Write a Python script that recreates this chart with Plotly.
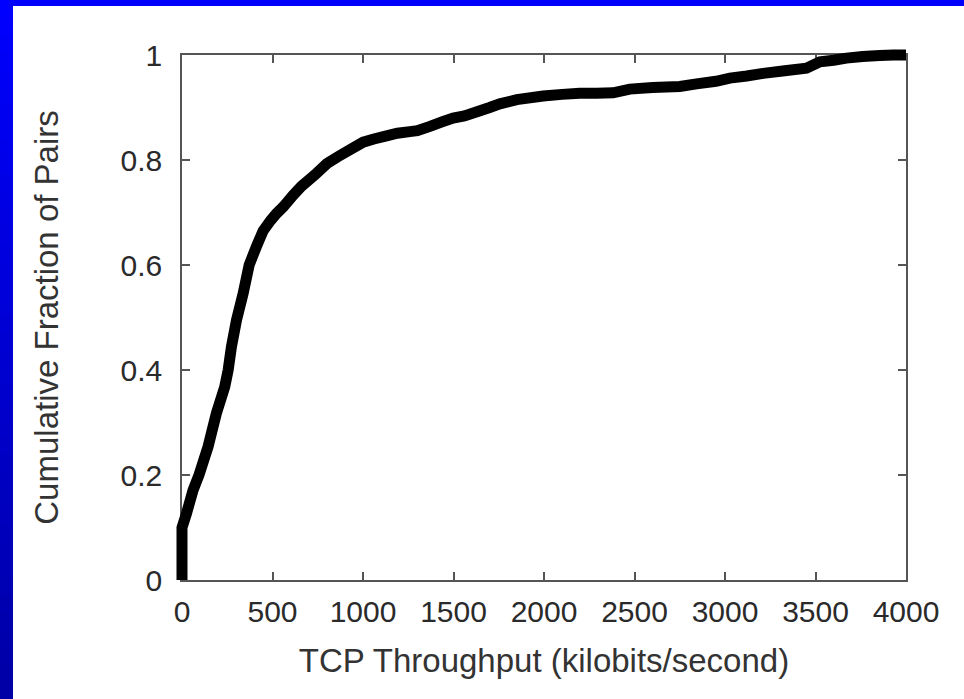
import plotly.graph_objects as go

# ---- data ----
throughput_kbps = [0, 0, 25, 61, 94, 144, 190, 236, 255, 273, 301, 338, 371, 411, 448,
                   490, 522, 560, 614, 660, 735, 800, 860, 930, 1001, 1060, 1130, 1190,
                   1259, 1300, 1370, 1440, 1498, 1560, 1630, 1700, 1756, 1850, 1995, 2100,
                   2197, 2290, 2382, 2474, 2600, 2750, 2843, 2950, 3027, 3120, 3211, 3330,
                   3450, 3524, 3600, 3671, 3760, 3855, 3930, 4000]
cum_fraction = [0.0, 0.10, 0.127, 0.171, 0.20, 0.254, 0.3175, 0.368, 0.40, 0.444, 0.495,
                0.546, 0.60, 0.635, 0.665, 0.685, 0.698, 0.711, 0.733, 0.750, 0.772, 0.793,
                0.806, 0.820, 0.834, 0.840, 0.846, 0.851, 0.854, 0.856, 0.864, 0.873,
                0.880, 0.884, 0.892, 0.900, 0.907, 0.915, 0.922, 0.925, 0.927, 0.927,
                0.928, 0.935, 0.938, 0.940, 0.945, 0.950, 0.956, 0.960, 0.965, 0.970,
                0.975, 0.987, 0.990, 0.994, 0.997, 0.999, 1.0, 1.0]

x_ticks = [0, 500, 1000, 1500, 2000, 2500, 3000, 3500, 4000]
y_ticks = [0, 0.2, 0.4, 0.6, 0.8, 1]
x_title = "TCP Throughput (kilobits/second)"
y_title = "Cumulative Fraction of Pairs"

# ---- geometry (pixels) ----
W, H = 964, 699
AX_L, AX_R, AX_T, AX_B = 182, 906, 55, 580     # visible frame
PAD = 20                                        # extra room so the thick line is not clipped
ML, MR, MT, MB = AX_L - PAD, W - AX_R - PAD, AX_T - PAD, H - AX_B - PAD
PW, PH = W - ML - MR, H - MT - MB
X0, X1 = 0, 4000
Y0, Y1 = 0, 1
kx = (AX_R - AX_L) / (X1 - X0)
ky = (AX_B - AX_T) / (Y1 - Y0)


def px_x(px):
    return (px - ML) / PW


def px_y(py):
    return (H - MB - py) / PH


fig = go.Figure()
# empty helper trace so the visible frame axes are drawn
fig.add_trace(go.Scatter(x=[None], y=[None], mode="lines", xaxis="x", yaxis="y",
                         showlegend=False, hoverinfo="skip"))
# data trace on an invisible, slightly wider subplot with identical scale
fig.add_trace(go.Scatter(
    x=throughput_kbps, y=cum_fraction, mode="lines",
    line=dict(color="black", width=11, simplify=False),
    xaxis="x2", yaxis="y2",
    showlegend=False, hoverinfo="skip",
))

# blue slide frame (top band + left band with vertical gradient)
shapes = [dict(type="rect", xref="paper", yref="paper",
               x0=px_x(0), x1=px_x(W), y0=px_y(0), y1=px_y(6),
               fillcolor="#0000FF", line=dict(width=0), layer="below")]
n = 40
for i in range(n):
    y0p = H * i / n
    y1p = min(H * (i + 1) / n + 1, H)
    b = int(round(255 - (255 - 165) * (i + 0.5) / n))
    shapes.append(dict(type="rect", xref="paper", yref="paper",
                       x0=px_x(0), x1=px_x(13), y0=px_y(y0p), y1=px_y(y1p),
                       fillcolor=f"rgb(0,0,{b})", line=dict(width=0), layer="below"))

font_family = "Liberation Sans, Arial, sans-serif"
axis_common = dict(
    showline=True, linecolor="#555555", linewidth=1.5, mirror="ticks",
    ticks="inside", ticklen=8, tickwidth=1.5, tickcolor="#555555",
    showgrid=False, zeroline=False,
    tickfont=dict(family=font_family, size=30, color="#2a2a2a"),
)

fig.update_layout(
    width=W, height=H,
    margin=dict(l=ML, r=MR, t=MT, b=MB, autoexpand=False),
    paper_bgcolor="white", plot_bgcolor="rgba(0,0,0,0)",
    shapes=shapes,
    xaxis=dict(range=[X0, X1], tickvals=x_ticks, tickformat="d",
               domain=[px_x(AX_L), px_x(AX_R)], anchor="y",
               ticklabelstandoff=4,
               title=dict(text=x_title, standoff=22,
                          font=dict(family=font_family, size=33, color="#333333")),
               **axis_common),
    yaxis=dict(range=[Y0, Y1], tickvals=y_ticks,
               domain=[px_y(AX_B), px_y(AX_T)], anchor="x",
               ticklabelstandoff=12,
               title=dict(text=y_title, standoff=52,
                          font=dict(family=font_family, size=33, color="#333333")),
               **axis_common),
    xaxis2=dict(domain=[0, 1], anchor="y2", visible=False,
                range=[X0 - (AX_L - ML) / kx, X1 + (W - MR - AX_R) / kx]),
    yaxis2=dict(domain=[0, 1], anchor="x2", visible=False,
                range=[Y0 - (H - MB - AX_B) / ky, Y1 + (AX_T - MT) / ky]),
)

fig.write_html("out.html", config={"displayModeBar": False},
               post_script="document.body.style.margin='0';document.body.style.overflow='hidden';")
